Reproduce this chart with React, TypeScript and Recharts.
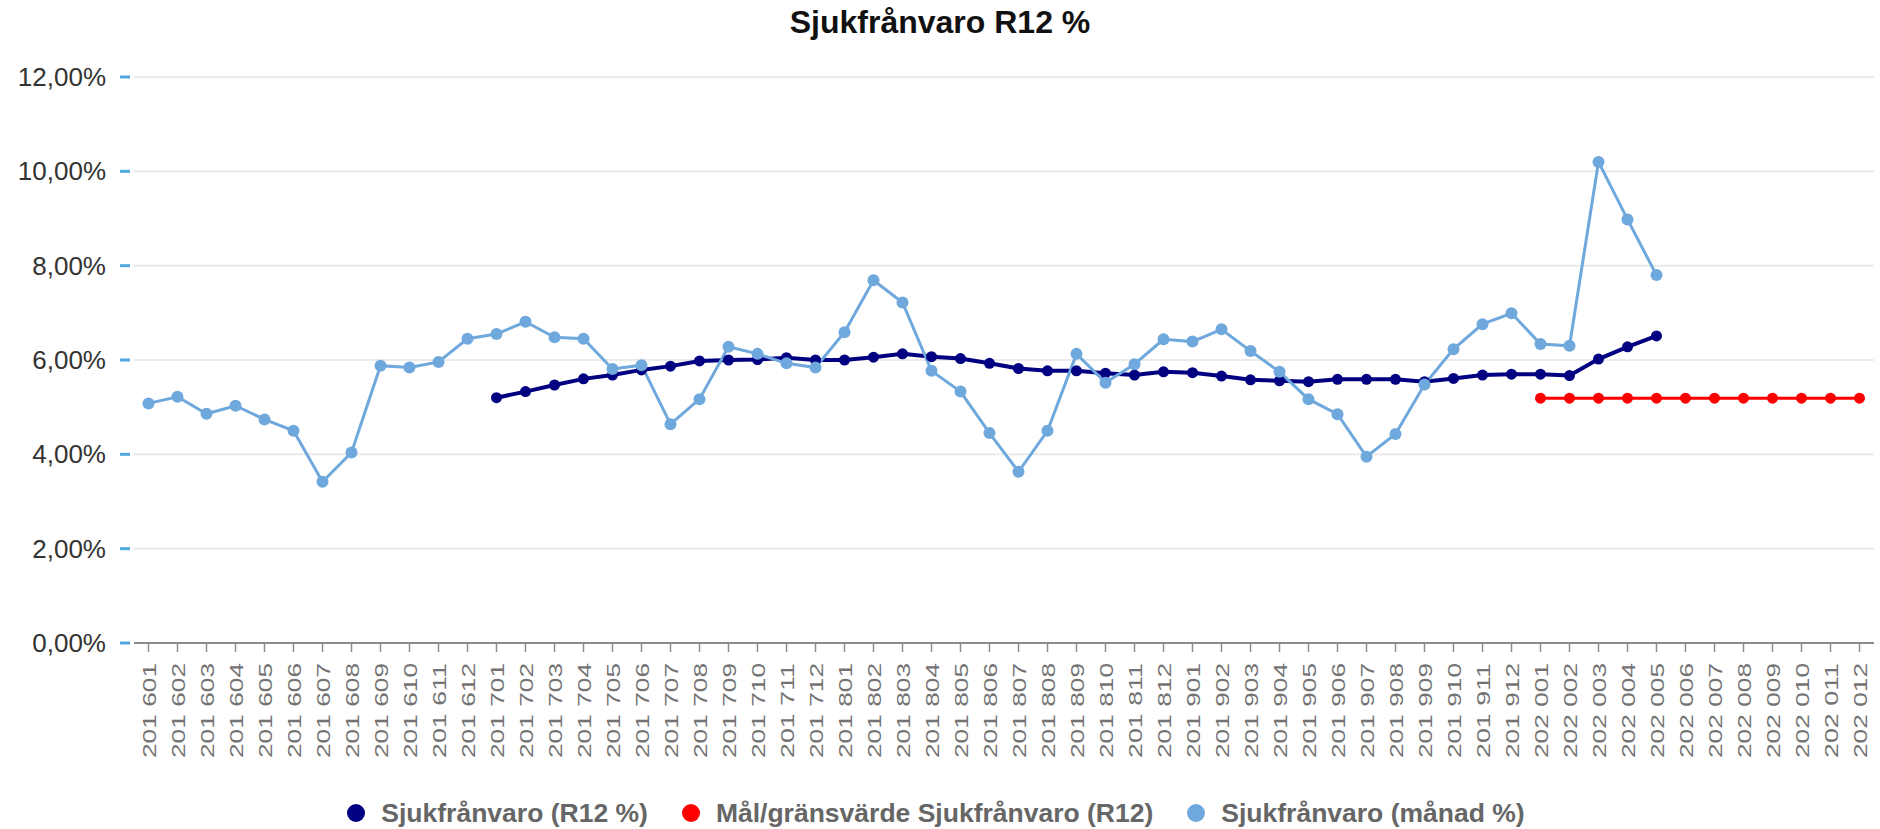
import { LineChart, Line, XAxis, YAxis, CartesianGrid } from 'recharts';

const FONT = '"Liberation Sans", Arial, sans-serif';

const months = [
  '201 601', '201 602', '201 603', '201 604', '201 605', '201 606', '201 607', '201 608', '201 609', '201 610', '201 611', '201 612',
  '201 701', '201 702', '201 703', '201 704', '201 705', '201 706', '201 707', '201 708', '201 709', '201 710', '201 711', '201 712',
  '201 801', '201 802', '201 803', '201 804', '201 805', '201 806', '201 807', '201 808', '201 809', '201 810', '201 811', '201 812',
  '201 901', '201 902', '201 903', '201 904', '201 905', '201 906', '201 907', '201 908', '201 909', '201 910', '201 911', '201 912',
  '202 001', '202 002', '202 003', '202 004', '202 005', '202 006', '202 007', '202 008', '202 009', '202 010', '202 011', '202 012',
];

// Sjukfrånvaro (R12 %)
const r12Values = [
  null, null, null, null, null, null, null, null, null, null, null, null,
  5.2, 5.33, 5.47, 5.6, 5.68, 5.79, 5.87, 5.98, 6.0, 6.01, 6.05, 6.0,
  6.0, 6.06, 6.13, 6.07, 6.03, 5.93, 5.82, 5.77, 5.77, 5.72, 5.68, 5.75,
  5.73, 5.66, 5.58, 5.56, 5.54, 5.59, 5.59, 5.59, 5.54, 5.61, 5.68, 5.7,
  5.7, 5.67, 6.02, 6.28, 6.51, null, null, null, null, null, null, null,
];

// Mål/gränsvärde Sjukfrånvaro (R12)
const targetValues = [
  null, null, null, null, null, null, null, null, null, null, null, null,
  null, null, null, null, null, null, null, null, null, null, null, null,
  null, null, null, null, null, null, null, null, null, null, null, null,
  null, null, null, null, null, null, null, null, null, null, null, null,
  5.19, 5.19, 5.19, 5.19, 5.19, 5.19, 5.19, 5.19, 5.19, 5.19, 5.19, 5.19,
];

// Sjukfrånvaro (månad %)
const monthlyValues = [
  5.08, 5.22, 4.86, 5.03, 4.74, 4.5, 3.42, 4.04, 5.88, 5.84, 5.96, 6.45,
  6.55, 6.81, 6.48, 6.45, 5.81, 5.89, 4.64, 5.17, 6.28, 6.13, 5.93, 5.84,
  6.59, 7.69, 7.22, 5.77, 5.33, 4.45, 3.63, 4.5, 6.13, 5.52, 5.91, 6.44,
  6.39, 6.65, 6.19, 5.75, 5.17, 4.85, 3.95, 4.43, 5.48, 6.23, 6.76, 6.99,
  6.34, 6.3, 10.2, 8.98, 7.8, null, null, null, null, null, null, null,
];

const yTicks = [0, 2, 4, 6, 8, 10, 12];

const legendItems = [
  { name: 'Sjukfrånvaro (R12 %)', color: '#000080' },
  { name: 'Mål/gränsvärde Sjukfrånvaro (R12)', color: '#ff0000' },
  { name: 'Sjukfrånvaro (månad %)', color: '#6fa8dc' },
];

const data = months.map((month, i) => ({
  month,
  r12: r12Values[i],
  target: targetValues[i],
  monthly: monthlyValues[i],
}));

const formatPct = (v: number) => v.toFixed(2).replace('.', ',') + '%';

const YTick = ({ x, y, payload }: any) => (
  <g>
    <line x1={x - 14} x2={x - 4} y1={y} y2={y} stroke="#4fa9de" strokeWidth={3} />
    <text x={x - 28} y={y} dy={9} textAnchor="end" fontSize={26} fill="#333" fontFamily={FONT}>
      {formatPct(payload.value)}
    </text>
  </g>
);

const XTick = ({ x, y, payload }: any) => (
  <text
    transform={`translate(${x + 7}, ${y}) rotate(-90)`}
    textAnchor="end"
    fontSize={19}
    fill="#737373"
    fontFamily={FONT}
    textLength={95}
    lengthAdjust="spacingAndGlyphs"
  >
    {payload.value}
  </text>
);

const App = () => {
  return (
    <div style={{ position: 'absolute', left: 0, top: 0, width: 1880, height: 829, background: '#fff', fontFamily: FONT }}>
      <div
        style={{
          position: 'absolute',
          top: 6,
          left: 0,
          width: 1880,
          textAlign: 'center',
          fontSize: 32,
          lineHeight: '32px',
          fontWeight: 'bold',
          color: '#111',
        }}
      >
        Sjukfrånvaro R12 %
      </div>
      <LineChart width={1880} height={829} data={data} margin={{ top: 77, right: 6, left: 0, bottom: 0 }}>
        <CartesianGrid vertical={false} stroke="#ebebeb" strokeWidth={2} />
        <XAxis
          dataKey="month"
          interval={0}
          height={186}
          padding={{ left: 14.5, right: 14.5 }}
          axisLine={{ stroke: '#8c8c8c', strokeWidth: 2 }}
          tickLine={{ stroke: '#8c8c8c', strokeWidth: 1.5 }}
          tickSize={9}
          tickMargin={11}
          tick={<XTick />}
        />
        <YAxis
          width={134}
          domain={[0, 12]}
          ticks={yTicks}
          axisLine={false}
          tickLine={false}
          tickSize={0}
          tickMargin={0}
          tick={<YTick />}
        />
        <Line
          dataKey="r12"
          name="Sjukfrånvaro (R12 %)"
          type="linear"
          stroke="#000080"
          strokeWidth={4}
          dot={{ r: 5.5, fill: '#000080', stroke: 'none' }}
          isAnimationActive={false}
        />
        <Line
          dataKey="target"
          name="Mål/gränsvärde Sjukfrånvaro (R12)"
          type="linear"
          stroke="#ff0000"
          strokeWidth={3}
          dot={{ r: 5.5, fill: '#ff0000', stroke: 'none' }}
          isAnimationActive={false}
        />
        <Line
          dataKey="monthly"
          name="Sjukfrånvaro (månad %)"
          type="linear"
          stroke="#6fa8dc"
          strokeWidth={3}
          dot={{ r: 6, fill: '#6fa8dc', stroke: 'none' }}
          isAnimationActive={false}
        />
      </LineChart>
      <div
        style={{
          position: 'absolute',
          top: 798,
          left: -4,
          width: 1880,
          display: 'flex',
          justifyContent: 'center',
          alignItems: 'center',
          gap: 34,
          fontSize: 26.5,
          lineHeight: '30px',
          fontWeight: 'bold',
          color: '#666',
        }}
      >
        {legendItems.map((item) => (
          <div key={item.name} style={{ display: 'flex', alignItems: 'center' }}>
            <span
              style={{
                display: 'inline-block',
                width: 18,
                height: 18,
                borderRadius: '50%',
                background: item.color,
                marginRight: 16,
              }}
            />
            <span>{item.name}</span>
          </div>
        ))}
      </div>
    </div>
  );
};

export default App;
